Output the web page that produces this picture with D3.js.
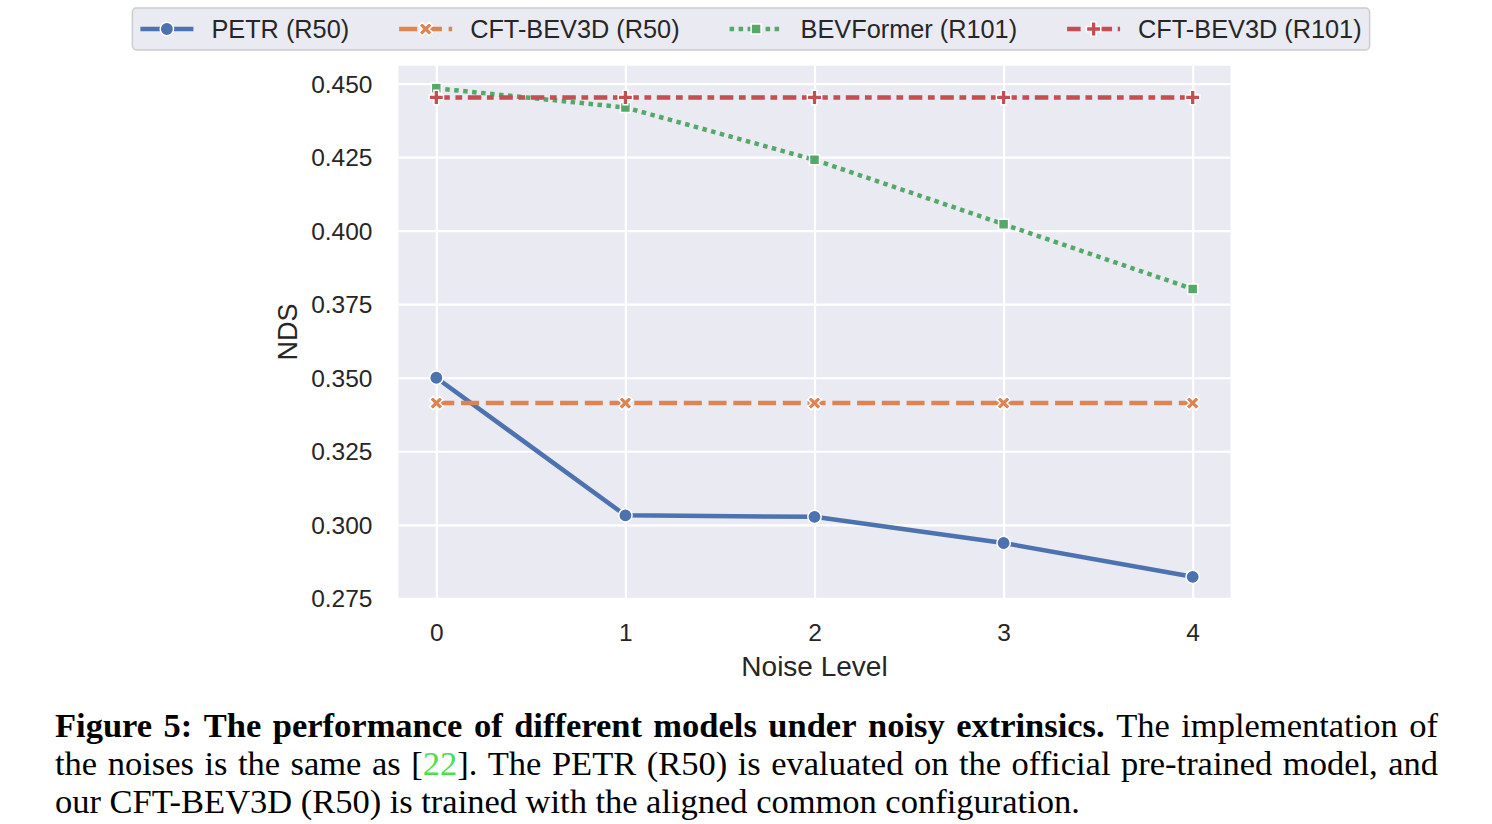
<!DOCTYPE html>
<html>
<head>
<meta charset="utf-8">
<script src="https://cdn.jsdelivr.net/npm/d3@7"></script>
<style>
  html, body { margin: 0; padding: 0; background: #fff; }
  svg { display: block; }
</style>
</head>
<body>
<div class="chart"></div>
<script>
// values
var noiseLevels = [0, 1, 2, 3, 4];
var petrR50 = [0.3500, 0.3032, 0.3027, 0.2938, 0.2823];
var cftR50 = [0.3414, 0.3414, 0.3414, 0.3414, 0.3414];
var bevformerR101 = [0.4484, 0.4419, 0.4241, 0.4022, 0.3802];
var cftR101 = [0.4453, 0.4453, 0.4453, 0.4453, 0.4453];
var seriesNames = ['PETR (R50)', 'CFT-BEV3D (R50)', 'BEVFormer (R101)', 'CFT-BEV3D (R101)'];
var yTicks = [0.275, 0.300, 0.325, 0.350, 0.375, 0.400, 0.425, 0.450];
var xTicks = [0, 1, 2, 3, 4];

var W = 1492, H = 824;
var plot = { left: 398.5, right: 1230.5, top: 65.7, bottom: 598.3 };
var lw = 4.5;

// seaborn "deep" colours, dash patterns scaled by line width
var styles = [
  { color: '#4C72B0', dash: null, marker: 'circle' },
  { color: '#DD8452', dash: [4, 1.5], marker: 'x' },
  { color: '#55A868', dash: [1, 1], marker: 'square' },
  { color: '#C44E52', dash: [3, 1.25, 1.5, 1.25], marker: 'plus' }
];
var allSeries = [petrR50, cftR50, bevformerR101, cftR101];

var svg = d3.select('.chart').append('svg')
  .attr('width', W)
  .attr('height', H);

var x = d3.scaleLinear().domain([-0.2, 4.2]).range([plot.left, plot.right]);
var y = d3.scaleLinear().domain([0.2750, 0.4561]).range([plot.bottom, plot.top]);

// background
svg.append('rect')
  .attr('x', plot.left)
  .attr('y', plot.top)
  .attr('width', plot.right - plot.left)
  .attr('height', plot.bottom - plot.top)
  .attr('fill', '#EAEAF2');

// grid via axes
var gy = svg.append('g')
  .attr('transform', 'translate(' + plot.left + ',0)')
  .call(d3.axisLeft(y).tickValues(yTicks).tickFormat(d3.format('.3f'))
    .tickSize(-(plot.right - plot.left)).tickPadding(26));
var gx = svg.append('g')
  .attr('transform', 'translate(0,' + plot.bottom + ')')
  .call(d3.axisBottom(x).tickValues(xTicks).tickFormat(d3.format('d'))
    .tickSize(-(plot.bottom - plot.top)).tickPadding(25));

[gx, gy].forEach(function (g) {
  g.select('.domain').remove();
  g.selectAll('.tick line').attr('stroke', '#fff').attr('stroke-width', 2.2);
  g.selectAll('.tick text')
    .attr('fill', '#262626')
    .style('font-family', '"Liberation Sans", Arial, sans-serif')
    .style('font-size', '24.5px');
});
gy.selectAll('.tick text').attr('dy', '0.35em');
gx.selectAll('.tick text').attr('dy', '0.71em');

// axis labels
svg.append('text')
  .attr('x', (plot.left + plot.right) / 2)
  .attr('y', 676)
  .attr('text-anchor', 'middle')
  .attr('fill', '#262626')
  .style('font-family', '"Liberation Sans", Arial, sans-serif')
  .style('font-size', '28px')
  .text('Noise Level');

svg.append('text')
  .attr('transform', 'translate(297,' + ((plot.top + plot.bottom) / 2) + ')rotate(-90)')
  .attr('text-anchor', 'middle')
  .attr('fill', '#262626')
  .style('font-family', '"Liberation Sans", Arial, sans-serif')
  .style('font-size', '27px')
  .text('NDS');

function markerPath(kind) {
  if (kind === 'circle') return d3.symbol(d3.symbolCircle, 140)();
  if (kind === 'square') return d3.symbol(d3.symbolSquare, 100)();
  return d3.symbol(d3.symbolCross, 115)();
}
function markerRot(kind) { return kind === 'x' ? 45 : 0; }

var line = d3.line()
  .x(function (d, i) { return x(noiseLevels[i]); })
  .y(function (d) { return y(d); });

allSeries.forEach(function (vals, si) {
  var st = styles[si];
  var g = svg.append('g').attr('class', 'series');
  g.append('path')
    .datum(vals)
    .attr('d', line)
    .attr('fill', 'none')
    .attr('stroke', st.color)
    .attr('stroke-width', lw)
    .attr('stroke-dasharray', st.dash ? st.dash.map(function (v) { return v * lw; }).join(',') : null);
  g.selectAll('.mk')
    .data(vals)
    .enter().append('path')
    .attr('class', 'mk')
    .attr('d', markerPath(st.marker))
    .attr('transform', function (d, i) {
      return 'translate(' + x(noiseLevels[i]) + ',' + y(d) + ')rotate(' + markerRot(st.marker) + ')';
    })
    .attr('fill', st.color)
    .attr('stroke', '#fff')
    .attr('stroke-width', 1.5);
});

// legend
var legend = svg.append('g');
var legBox = legend.append('rect')
  .attr('y', 8).attr('height', 42).attr('rx', 4)
  .attr('fill', '#EAEAF2')
  .attr('stroke', '#CCCCCC')
  .attr('stroke-width', 1.5);
var handleLen = 53, textGap = 18, itemGap = 50;
var cursor = 0;
seriesNames.forEach(function (name, i) {
  var st = styles[i];
  var it = legend.append('g');
  it.append('line')
    .attr('x1', 0).attr('x2', handleLen).attr('y1', 29).attr('y2', 29)
    .attr('stroke', st.color).attr('stroke-width', lw)
    .attr('stroke-dasharray', st.dash ? st.dash.map(function (v) { return v * lw; }).join(',') : null);
  it.append('path')
    .attr('d', markerPath(st.marker))
    .attr('transform', 'translate(' + handleLen / 2 + ',29)rotate(' + markerRot(st.marker) + ')')
    .attr('fill', st.color).attr('stroke', '#fff').attr('stroke-width', 1.5);
  var t = it.append('text')
    .attr('x', handleLen + textGap).attr('y', 38)
    .attr('fill', '#262626')
    .style('font-family', '"Liberation Sans", Arial, sans-serif')
    .style('font-size', '25.3px')
    .text(name);
  it.attr('data-off', cursor);
  var wItem = handleLen + textGap + t.node().getComputedTextLength();
  cursor += wItem + (i < seriesNames.length - 1 ? itemGap : 0);
});
var legLeft = 751 - cursor / 2;
legend.selectAll('g').each(function () {
  var g = d3.select(this);
  g.attr('transform', 'translate(' + (+g.attr('data-off') + legLeft) + ',0)');
});
legBox.attr('x', legLeft - 8).attr('width', cursor + 16);

// caption, justified word by word
var capLines = [
  [{ text: 'Figure 5: The performance of different models under noisy extrinsics.', bold: true },
   { text: ' The implementation of' }],
  [{ text: 'the noises is the same as [' }, { text: '22', color: '#4be04b' },
   { text: ']. The PETR (R50) is evaluated on the official pre-trained model, and' }],
  [{ text: 'our CFT-BEV3D (R50) is trained with the aligned common configuration.' }]
];
var capLeft = 55, capRight = 1438, capBase = [737, 775, 813];

function toWords(segs) {
  var words = [], cur = [];
  segs.forEach(function (s) {
    s.text.split(' ').forEach(function (p, i) {
      if (i > 0) { if (cur.length) words.push(cur); cur = []; }
      if (p) cur.push({ text: p, bold: s.bold, color: s.color });
    });
  });
  if (cur.length) words.push(cur);
  return words;
}

var cap = svg.append('g')
  .style('font-family', '"Liberation Serif", "Times New Roman", serif')
  .style('font-size', '34.5px');
capLines.forEach(function (segs, li) {
  var words = toWords(segs);
  var nodes = words.map(function (runs) {
    var t = cap.append('text').attr('y', capBase[li]).attr('fill', '#000');
    runs.forEach(function (r) {
      t.append('tspan')
        .attr('font-weight', r.bold ? 'bold' : 'normal')
        .attr('fill', r.color || '#000')
        .text(r.text);
    });
    return t;
  });
  var widths = nodes.map(function (t) { return t.node().getComputedTextLength(); });
  var total = d3.sum(widths);
  var space = li < capLines.length - 1 ? (capRight - capLeft - total) / (words.length - 1) : 8.5;
  var cx = capLeft;
  nodes.forEach(function (t, i) {
    t.attr('x', cx);
    cx += widths[i] + space;
  });
});
</script>
</body>
</html>
